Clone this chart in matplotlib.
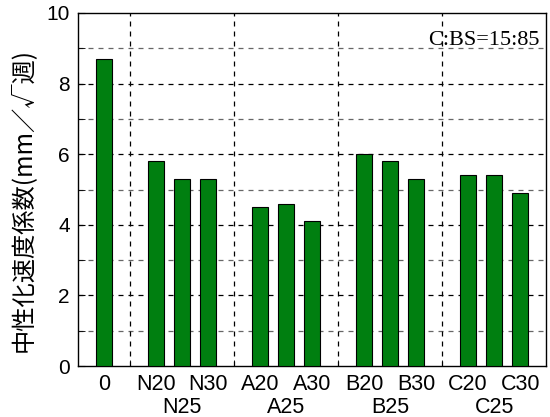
import matplotlib
matplotlib.use('Agg')
from matplotlib import pyplot as plt
from matplotlib.ticker import MultipleLocator, FixedLocator
import matplotlib.transforms as mtrans

plt.rcParams['font.family'] = ['Liberation Sans', 'Noto Sans CJK JP', 'DejaVu Sans']

labels = ['0', 'N20', 'N25', 'N30', 'A20', 'A25', 'A30',
          'B20', 'B25', 'B30', 'C20', 'C25', 'C30']
positions = [1, 3, 4, 5, 7, 8, 9, 11, 12, 13, 15, 16, 17]
values = [8.7, 5.8, 5.3, 5.3, 4.5, 4.6, 4.1, 6.0, 5.8, 5.3, 5.4, 5.4, 4.9]
group_lines = [2, 6, 10, 14]

fig = plt.figure(figsize=(5.5, 4.17), dpi=100)
ax = fig.add_axes([0.142, 0.122, 0.851, 0.847])

ax.bar(positions, values, width=0.62, color='#007f10', edgecolor='black',
       linewidth=0.8, zorder=3)

ax.set_xlim(0, 18)
ax.set_ylim(0, 10)
ax.yaxis.set_major_locator(MultipleLocator(2))
ax.yaxis.set_minor_locator(MultipleLocator(1))

# top row labels on the ticks, middle one of each group goes one row down
top_pos = [p for i, p in enumerate(positions) if i % 3 != 2 or i == 0]
top_lab = [l for i, l in enumerate(labels) if i % 3 != 2 or i == 0]
ax.set_xticks(top_pos)
ax.set_xticklabels(top_lab, fontsize=15.5)
ax.xaxis.set_minor_locator(FixedLocator(group_lines))
ax.tick_params(axis='x', which='major', length=0, pad=6)
ax.tick_params(axis='x', which='minor', direction='in', length=4)
ax.tick_params(axis='y', which='both', direction='in', length=5, labelsize=15, pad=6)

xdata_yaxes = mtrans.blended_transform_factory(ax.transData, ax.transAxes)
for i, (p, l) in enumerate(zip(positions, labels)):
    if i % 3 == 2 and i != 0:
        ax.text(p, -0.132, l, transform=xdata_yaxes, ha='center', va='baseline',
                fontsize=15.5)

for y in range(1, 10):
    c = 'black' if y % 2 == 0 else '#666666'
    ax.axhline(y, color=c, linestyle=(0, (4, 4)), linewidth=0.9, zorder=1)
for x in group_lines:
    ax.axvline(x, color='black', linestyle=(0, (4, 4)), linewidth=0.9, zorder=1)

for s in ax.spines.values():
    s.set_linewidth(1.0)

ax.set_ylabel('中性化速度係数(mm／√週)', fontsize=17.5,
              family=['Noto Sans CJK JP', 'DejaVu Sans'])
ax.yaxis.set_label_coords(-0.09, 0.47)

xaxes_ydata = mtrans.blended_transform_factory(ax.transAxes, ax.transData)
ax.text(0.985, 9.1, 'C:BS=15:85', transform=xaxes_ydata, ha='right',
        va='baseline', fontsize=16, family='Liberation Serif')

fig.savefig('out.png', dpi=100)
